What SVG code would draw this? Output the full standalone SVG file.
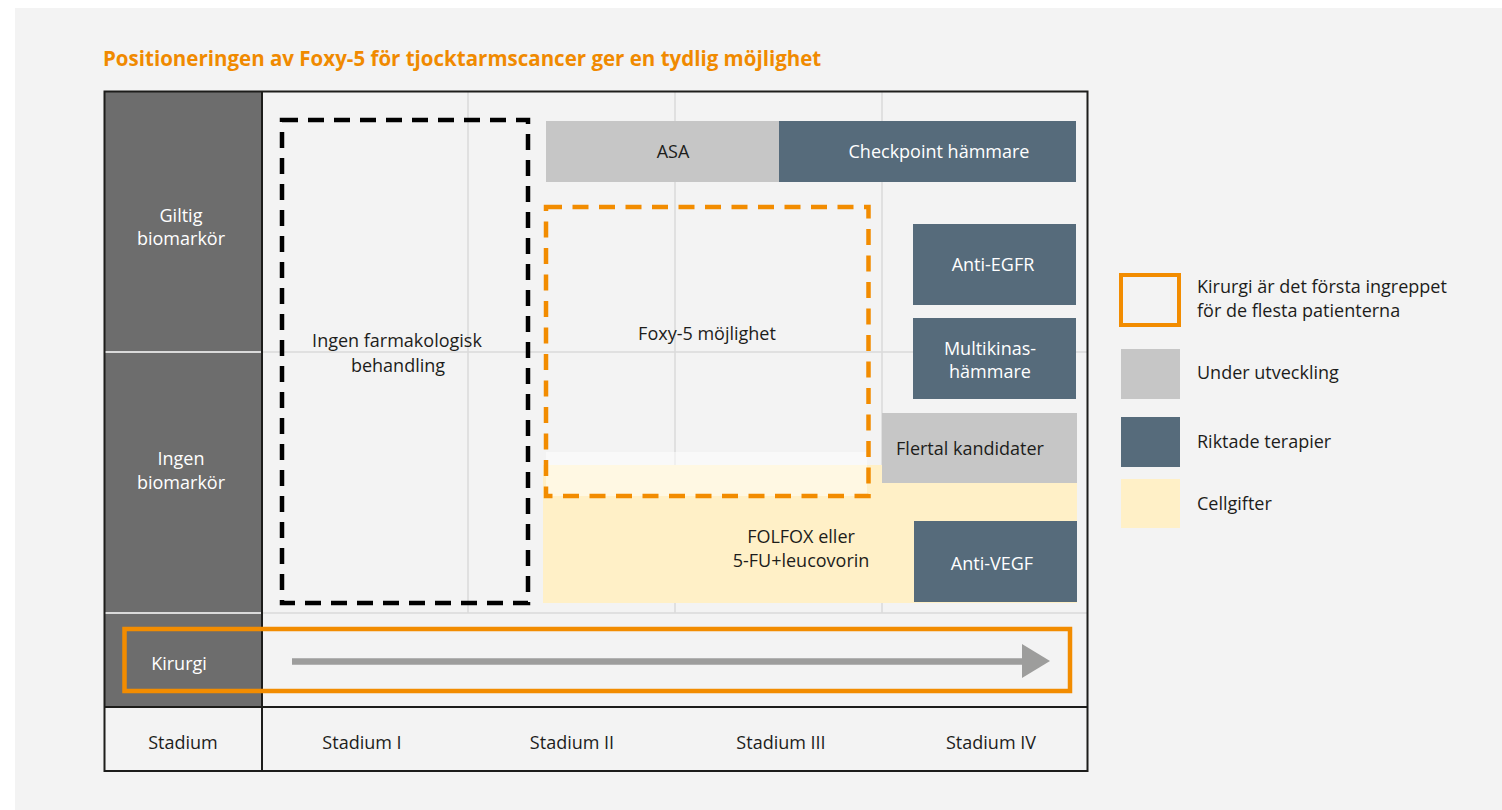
<svg xmlns="http://www.w3.org/2000/svg" width="1502" height="810" viewBox="0 0 1502 810">
<style>
text{font-family:"Open Sans","Noto Sans","Liberation Sans",sans-serif;font-size:18px;fill:#1d1d1b}
.w{fill:#ffffff}
.c{text-anchor:middle}
.title{font-weight:bold;fill:#f08a00;font-size:20.5px}
.slate{fill:#566b7b}
.grey{fill:#c6c6c6}
.yel{fill:#fff0c7}
.grid{stroke:#dadada;stroke-width:1.5;fill:none}
</style>
<rect x="0" y="0" width="1502" height="810" fill="#ffffff"/>
<rect x="15" y="8" width="1487" height="802" fill="#f3f3f3"/>
<text class="title" x="103" y="66">Positioneringen av Foxy-5 för tjocktarmscancer ger en tydlig möjlighet</text>

<g id="table">
<rect x="105" y="92" width="157" height="615" fill="#6d6d6d"/>
<line x1="105" y1="352" x2="262" y2="352" stroke="#ffffff" stroke-width="1.5"/>
<line x1="105" y1="613" x2="262" y2="613" stroke="#ffffff" stroke-width="1.5"/>
<path class="grid" d="M468 92V613M675 92V613M882 92V613M262 352H1087M262 613H1087"/>
</g>

<g id="cellgifter">
<rect class="yel" x="543" y="465" width="534" height="138"/>
<text class="c" x="801" y="543">FOLFOX eller</text>
<text class="c" x="801" y="567">5-FU+leucovorin</text>
</g>

<g id="table-frame">
<rect x="104.5" y="91.5" width="983" height="679.5" fill="none" stroke="#1d1d1b" stroke-width="2"/>
<line x1="104.5" y1="707" x2="1087.5" y2="707" stroke="#1d1d1b" stroke-width="2"/>
<line x1="262" y1="91.5" x2="262" y2="771" stroke="#1d1d1b" stroke-width="2"/>
</g>

<g id="row-labels">
<text class="w c" x="181" y="222">Giltig</text>
<text class="w c" x="181" y="245">biomarkör</text>
<text class="w c" x="181" y="465">Ingen</text>
<text class="w c" x="181" y="489">biomarkör</text>
<text class="w c" x="179" y="670">Kirurgi</text>
</g>

<g id="stadium-labels">
<text class="c" x="183" y="749">Stadium</text>
<text class="c" x="362" y="749">Stadium I</text>
<text class="c" x="572" y="749">Stadium II</text>
<text class="c" x="781" y="749">Stadium III</text>
<text class="c" x="991" y="749">Stadium IV</text>
</g>

<g id="ingen-farmakologisk">
<rect x="282" y="120" width="246" height="483" fill="none" stroke="#000000" stroke-width="4.5" stroke-dasharray="16 10"/>
<text class="c" x="397" y="347">Ingen farmakologisk</text>
<text class="c" x="398" y="372">behandling</text>
</g>

<g id="asa">
<rect class="grey" x="546" y="121" width="233" height="61"/>
<text class="c" x="673" y="158">ASA</text>
</g>
<g id="checkpoint">
<rect class="slate" x="779" y="121" width="297" height="61"/>
<text class="w c" x="939" y="158">Checkpoint hämmare</text>
</g>
<g id="anti-egfr">
<rect class="slate" x="913" y="224" width="163" height="81"/>
<text class="w c" x="993" y="271">Anti-EGFR</text>
</g>
<g id="multikinas">
<rect class="slate" x="913" y="318" width="163" height="81"/>
<text class="w c" x="990" y="355">Multikinas-</text>
<text class="w c" x="990" y="378">hämmare</text>
</g>
<g id="flertal">
<rect class="grey" x="882" y="413" width="195" height="70"/>
<text class="c" x="970" y="455">Flertal kandidater</text>
</g>
<g id="anti-vegf">
<rect class="slate" x="914" y="521" width="163" height="81"/>
<text class="w c" x="992" y="570">Anti-VEGF</text>
</g>

<g id="foxy5">
<rect x="546" y="452" width="321" height="44" fill="#ffffff" fill-opacity="0.5"/>
<rect x="546" y="207" width="322.5" height="289" fill="none" stroke="#f28c00" stroke-width="4.5" stroke-dasharray="16 10.5"/>
<text class="c" x="707" y="340">Foxy-5 möjlighet</text>
</g>

<g id="connectors">
<line x1="292" y1="661.5" x2="1024" y2="661.5" stroke="#9d9d9c" stroke-width="6.5"/>
<polygon points="1022,644 1050,661 1022,678" fill="#9d9d9c"/>
</g>

<g id="kirurgi-box">
<rect x="124.5" y="629" width="945.5" height="62" fill="none" stroke="#f28c00" stroke-width="4.5"/>
</g>

<g id="legend">
<rect x="1121" y="275" width="58" height="50" fill="none" stroke="#f28c00" stroke-width="4"/>
<text x="1197" y="293">Kirurgi är det första ingreppet</text>
<text x="1197" y="317">för de flesta patienterna</text>
<rect class="grey" x="1121" y="349" width="59" height="50"/>
<text x="1197" y="379">Under utveckling</text>
<rect class="slate" x="1121" y="417" width="59" height="50"/>
<text x="1197" y="448">Riktade terapier</text>
<rect class="yel" x="1121" y="479" width="59" height="49"/>
<text x="1197" y="510">Cellgifter</text>
</g>
</svg>
